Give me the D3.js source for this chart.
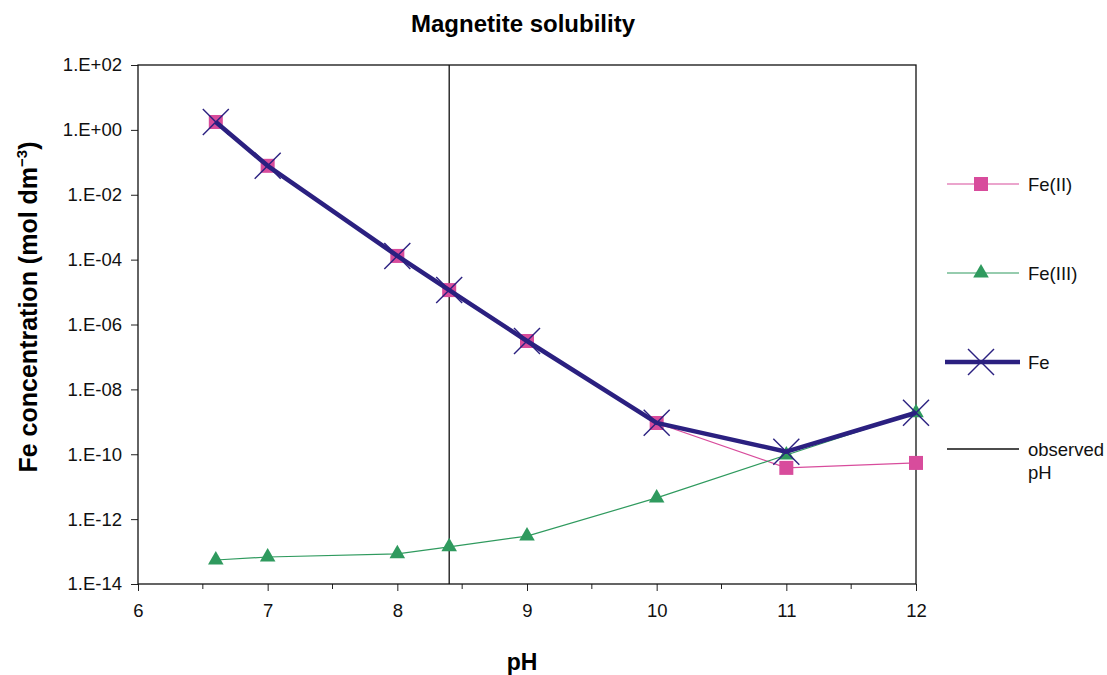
<!DOCTYPE html>
<html>
<head>
<meta charset="utf-8">
<script src="https://cdn.jsdelivr.net/npm/d3@7/dist/d3.min.js"></script>
<style>
  html, body { margin: 0; padding: 0; background: #fff; }
  svg { display: block; font-family: "Liberation Sans", Arial, sans-serif; }
</style>
</head>
<body>
<svg id="chart" width="1107" height="675"></svg>
<script>
// pH values where the solubility was evaluated
const pH = [6.6, 7, 8, 8.4, 9, 10, 11, 12];
// Dissolved iron species (mol dm^-3)
const feII  = [1.75, 0.078, 1.3e-4, 1.15e-5, 3.1e-7, 9.2e-10, 3.8e-11, 5.4e-11];
const feIII = [5.5e-14, 6.8e-14, 8.5e-14, 1.4e-13, 3.0e-13, 4.5e-12, 9.5e-11, 1.9e-9];
const feTotal = [1.75, 0.078, 1.3e-4, 1.15e-5, 3.1e-7, 9.3e-10, 1.2e-10, 1.9e-9];
const observedPH = 8.4;
const xTicks = [6, 7, 8, 9, 10, 11, 12];
const yTicks = [1e2, 1e0, 1e-2, 1e-4, 1e-6, 1e-8, 1e-10, 1e-12, 1e-14];
const yTickLabels = ["1.E+02", "1.E+00", "1.E-02", "1.E-04", "1.E-06", "1.E-08", "1.E-10", "1.E-12", "1.E-14"];

const colFeII = "#d84c9c";
const colFeIII = "#2f9a5e";
const colFe = "#2b2080";
const FONT = "Liberation Sans, Arial, sans-serif";

const svg = d3.select("#chart");
const m = { left: 138, top: 65, right: 916, bottom: 584 };

const x = d3.scaleLinear().domain([6, 12]).range([m.left, m.right]);
const y = d3.scaleLog().domain([1e-14, 1e2]).range([m.bottom, m.top]);

// Title
svg.append("text")
  .attr("x", 523).attr("y", 32)
  .attr("text-anchor", "middle")
  .attr("font-size", 24).attr("font-weight", "bold")
  .text("Magnetite solubility");

// X axis (major ticks + half-unit minor ticks)
const xAxis = svg.append("g").attr("transform", `translate(0,${m.bottom})`)
  .call(d3.axisBottom(x).tickValues(xTicks).tickFormat(d3.format("d")).tickSize(7).tickPadding(13));
xAxis.selectAll("text").attr("font-size", 18.5).attr("font-family", FONT).attr("fill", "#111");
xAxis.select(".domain").remove();
xAxis.selectAll("line").attr("stroke", "#222");

const minor = d3.range(6.5, 12, 1);
svg.append("g").selectAll("line").data(minor).join("line")
  .attr("x1", d => x(d)).attr("x2", d => x(d))
  .attr("y1", m.bottom).attr("y2", m.bottom + 5)
  .attr("stroke", "#222");

// Y axis
const yAxis = svg.append("g").attr("transform", `translate(${m.left},0)`)
  .call(d3.axisLeft(y).tickValues(yTicks).tickFormat((d, i) => yTickLabels[i]).tickSize(7).tickPadding(9));
yAxis.selectAll("text").attr("font-size", 18.5).attr("font-family", FONT).attr("fill", "#111");
yAxis.select(".domain").remove();
yAxis.selectAll("line").attr("stroke", "#222");

// Axis titles
svg.append("text")
  .attr("x", 522).attr("y", 670)
  .attr("text-anchor", "middle")
  .attr("font-size", 23).attr("font-weight", "bold")
  .text("pH");

const yTitle = svg.append("text")
  .attr("transform", `translate(37,307) rotate(-90)`)
  .attr("text-anchor", "middle")
  .attr("font-size", 25).attr("font-weight", "bold");
yTitle.append("tspan").text("Fe concentration (mol dm");
yTitle.append("tspan").attr("dy", -10).attr("font-size", 15).text("−3");
yTitle.append("tspan").attr("dy", 10).text(")");

// Plot frame
svg.append("rect")
  .attr("x", m.left).attr("y", m.top)
  .attr("width", m.right - m.left).attr("height", m.bottom - m.top)
  .attr("fill", "none").attr("stroke", "#111").attr("stroke-width", 1.3);

// Observed pH marker line
svg.append("line")
  .attr("x1", x(observedPH)).attr("x2", x(observedPH))
  .attr("y1", m.top).attr("y2", m.bottom)
  .attr("stroke", "#111").attr("stroke-width", 1.3);

const line = d3.line().x(d => x(d[0])).y(d => y(d[1]));
const zip = vals => pH.map((p, i) => [p, vals[i]]);

// Fe(II) series
svg.append("path").datum(zip(feII)).attr("d", line)
  .attr("fill", "none").attr("stroke", colFeII).attr("stroke-width", 1.2);
svg.append("g").selectAll("rect").data(zip(feII)).join("rect")
  .attr("x", d => x(d[0]) - 7).attr("y", d => y(d[1]) - 7)
  .attr("width", 14).attr("height", 14).attr("fill", colFeII);

// Fe(III) series
const tri = d3.symbol().type(d3.symbolTriangle).size(105);
svg.append("path").datum(zip(feIII)).attr("d", line)
  .attr("fill", "none").attr("stroke", colFeIII).attr("stroke-width", 1.2);
svg.append("g").selectAll("path").data(zip(feIII)).join("path")
  .attr("d", tri)
  .attr("transform", d => `translate(${x(d[0])},${y(d[1])})`)
  .attr("fill", colFeIII);

// Total Fe series
svg.append("path").datum(zip(feTotal)).attr("d", line)
  .attr("fill", "none").attr("stroke", colFe).attr("stroke-width", 4.5)
  .attr("stroke-linejoin", "round");
const cross = (g, cx, cy, r) => {
  g.append("line").attr("x1", cx - r).attr("y1", cy - r).attr("x2", cx + r).attr("y2", cy + r);
  g.append("line").attr("x1", cx - r).attr("y1", cy + r).attr("x2", cx + r).attr("y2", cy - r);
};
const crosses = svg.append("g").attr("stroke", colFe).attr("stroke-width", 1.4);
zip(feTotal).forEach(d => cross(crosses, x(d[0]), y(d[1]), 13));

// Legend
const lg = svg.append("g").attr("font-size", 18.5).attr("fill", "#111");
const lx1 = 947, lx2 = 1019, lmid = 981, ltx = 1028;

lg.append("line").attr("x1", lx1).attr("x2", lx2).attr("y1", 184).attr("y2", 184)
  .attr("stroke", colFeII).attr("stroke-width", 1.2);
lg.append("rect").attr("x", lmid - 7).attr("y", 184 - 7).attr("width", 14).attr("height", 14).attr("fill", colFeII);
lg.append("text").attr("x", ltx).attr("y", 191).text("Fe(II)");

lg.append("line").attr("x1", lx1).attr("x2", lx2).attr("y1", 273).attr("y2", 273)
  .attr("stroke", colFeIII).attr("stroke-width", 1.2);
lg.append("path").attr("d", tri).attr("transform", `translate(${lmid},${273})`).attr("fill", colFeIII);
lg.append("text").attr("x", ltx).attr("y", 280).text("Fe(III)");

lg.append("line").attr("x1", 945).attr("x2", 1020).attr("y1", 362).attr("y2", 362)
  .attr("stroke", colFe).attr("stroke-width", 4.5);
const lc = lg.append("g").attr("stroke", colFe).attr("stroke-width", 1.4);
cross(lc, lmid, 362, 13);
lg.append("text").attr("x", ltx).attr("y", 369).text("Fe");

lg.append("line").attr("x1", lx1).attr("x2", lx2).attr("y1", 449).attr("y2", 449)
  .attr("stroke", "#111").attr("stroke-width", 1.3);
lg.append("text").attr("x", ltx).attr("y", 456).text("observed");
lg.append("text").attr("x", ltx).attr("y", 479).text("pH");
</script>
</body>
</html>
